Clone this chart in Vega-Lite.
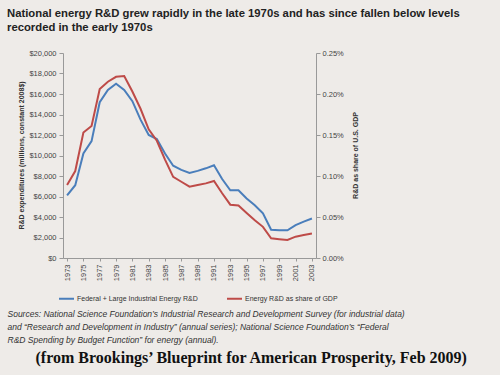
{
  "$schema": "https://vega.github.io/schema/vega-lite/v6.json",
  "width": 253,
  "height": 205,
  "autosize": {"type": "none"},
  "padding": {"left": 63, "top": 53, "right": 184, "bottom": 117},
  "background": "#eeebe8",
  "config": {"view": {"stroke": null}},
  "title": {
    "text": ["National energy R&D grew rapidly in the late 1970s and has since fallen below levels", "recorded in the early 1970s"],
    "anchor": "start",
    "frame": "group",
    "dx": -56,
    "font": "Liberation Sans",
    "fontSize": 11.3,
    "fontWeight": "bold",
    "color": "#222222",
    "lineHeight": 14,
    "offset": 16
  },
  "data": {
    "values": [
      {"year": 1973, "fed": 6100, "share": 0.089},
      {"year": 1974, "fed": 7100, "share": 0.106},
      {"year": 1975, "fed": 10200, "share": 0.153},
      {"year": 1976, "fed": 11400, "share": 0.161},
      {"year": 1977, "fed": 15200, "share": 0.206},
      {"year": 1978, "fed": 16400, "share": 0.215},
      {"year": 1979, "fed": 17000, "share": 0.221},
      {"year": 1980, "fed": 16400, "share": 0.222},
      {"year": 1981, "fed": 15300, "share": 0.203},
      {"year": 1982, "fed": 13500, "share": 0.182},
      {"year": 1983, "fed": 12000, "share": 0.157},
      {"year": 1984, "fed": 11600, "share": 0.143},
      {"year": 1985, "fed": 10200, "share": 0.120},
      {"year": 1986, "fed": 9000, "share": 0.099},
      {"year": 1987, "fed": 8600, "share": 0.093},
      {"year": 1988, "fed": 8300, "share": 0.087},
      {"year": 1989, "fed": 8500, "share": 0.089},
      {"year": 1990, "fed": 8750, "share": 0.091},
      {"year": 1991, "fed": 9050, "share": 0.094},
      {"year": 1992, "fed": 7700, "share": 0.079},
      {"year": 1993, "fed": 6600, "share": 0.065},
      {"year": 1994, "fed": 6600, "share": 0.064},
      {"year": 1995, "fed": 5800, "share": 0.055},
      {"year": 1996, "fed": 5150, "share": 0.046},
      {"year": 1997, "fed": 4350, "share": 0.038},
      {"year": 1998, "fed": 2750, "share": 0.024},
      {"year": 1999, "fed": 2700, "share": 0.023},
      {"year": 2000, "fed": 2700, "share": 0.022},
      {"year": 2001, "fed": 3200, "share": 0.026},
      {"year": 2002, "fed": 3550, "share": 0.028},
      {"year": 2003, "fed": 3850, "share": 0.030}
    ]
  },
  "layer": [
    {
      "mark": {"type": "line", "strokeWidth": 2},
      "encoding": {
        "x": {
          "field": "year",
          "type": "quantitative",
          "scale": {"domain": [1972.5, 2003.5], "nice": false, "zero": false},
          "axis": {
            "values": [1973, 1975, 1977, 1979, 1981, 1983, 1985, 1987, 1989, 1991, 1993, 1995, 1997, 1999, 2001, 2003],
            "format": "d",
            "labelAngle": 270,
            "labelFont": "Liberation Sans",
            "labelFontSize": 7.5,
            "labelColor": "#444444",
            "labelPadding": 3,
            "tickSize": 3,
            "tickColor": "#999999",
            "domainColor": "#999999",
            "grid": false,
            "title": ["Sources: National Science Foundation’s Industrial Research and Development Survey (for industrial data)", "and “Research and Development in Industry” (annual series); National Science Foundation’s “Federal", "R&D Spending by Budget Function” for energy (annual)."],
            "titleFont": "Liberation Sans",
            "titleFontSize": 8.5,
            "titleFontStyle": "italic",
            "titleFontWeight": "normal",
            "titleColor": "#333333",
            "titleLineHeight": 13,
            "titleAlign": "left",
            "titleBaseline": "middle",
            "titleX": -56,
            "titleY": 55
          }
        },
        "y": {
          "field": "fed",
          "type": "quantitative",
          "scale": {"domain": [0, 20000], "nice": false},
          "axis": {
            "values": [0, 2000, 4000, 6000, 8000, 10000, 12000, 14000, 16000, 18000, 20000],
            "format": "$,d",
            "labelFont": "Liberation Sans",
            "labelFontSize": 7.5,
            "labelColor": "#444444",
            "labelPadding": 3,
            "tickSize": 4,
            "tickColor": "#999999",
            "domainColor": "#999999",
            "grid": false,
            "title": "R&D expenditures (millions, constant 2008$)",
            "titleFont": "Liberation Sans",
            "titleFontSize": 7,
            "titleFontWeight": "bold",
            "titleColor": "#333333",
            "titleAngle": 270,
            "titleAlign": "center",
            "titleBaseline": "middle",
            "titleX": -42,
            "titleY": 102
          }
        },
        "color": {
          "datum": "Federal + Large Industrial Energy R&D",
          "scale": {
            "domain": ["Federal + Large Industrial Energy R&D", "Energy R&D as share of GDP"],
            "range": ["#4a7ebb", "#be4b48"]
          },
          "legend": {
            "orient": "none",
            "legendX": -5,
            "legendY": 237,
            "direction": "horizontal",
            "title": null,
            "symbolType": "stroke",
            "symbolSize": 225,
            "symbolStrokeWidth": 2,
            "labelFont": "Liberation Sans",
            "labelFontSize": 7,
            "labelColor": "#333333",
            "labelOffset": 2,
            "columnPadding": 25
          }
        }
      }
    },
    {
      "mark": {"type": "line", "strokeWidth": 2},
      "encoding": {
        "x": {
          "field": "year",
          "type": "quantitative",
          "axis": {
            "orient": "bottom",
            "labels": false,
            "ticks": false,
            "domain": false,
            "grid": false,
            "title": "(from Brookings’ Blueprint for American Prosperity, Feb 2009)",
            "titleFont": "Liberation Serif",
            "titleFontSize": 16,
            "titleFontWeight": "bold",
            "titleColor": "#111111",
            "titleAlign": "left",
            "titleBaseline": "middle",
            "titleX": -28,
            "titleY": 99
          }
        },
        "y": {
          "field": "share",
          "type": "quantitative",
          "scale": {"domain": [0, 0.25], "nice": false},
          "axis": {
            "orient": "right",
            "values": [0, 0.05, 0.1, 0.15, 0.2, 0.25],
            "labelExpr": "format(datum.value, '.2f') + '%'",
            "labelFont": "Liberation Sans",
            "labelFontSize": 7.5,
            "labelColor": "#444444",
            "labelPadding": 2,
            "tickSize": 4,
            "tickColor": "#999999",
            "domainColor": "#999999",
            "grid": false,
            "title": "R&D as share of U.S. GDP",
            "titleFont": "Liberation Sans",
            "titleFontSize": 7,
            "titleFontWeight": "bold",
            "titleColor": "#333333",
            "titleAngle": 270,
            "titleAlign": "center",
            "titleBaseline": "middle",
            "titleX": 39,
            "titleY": 102
          }
        },
        "color": {"datum": "Energy R&D as share of GDP"}
      }
    }
  ],
  "resolve": {"scale": {"y": "independent"}, "axis": {"x": "independent"}}
}
